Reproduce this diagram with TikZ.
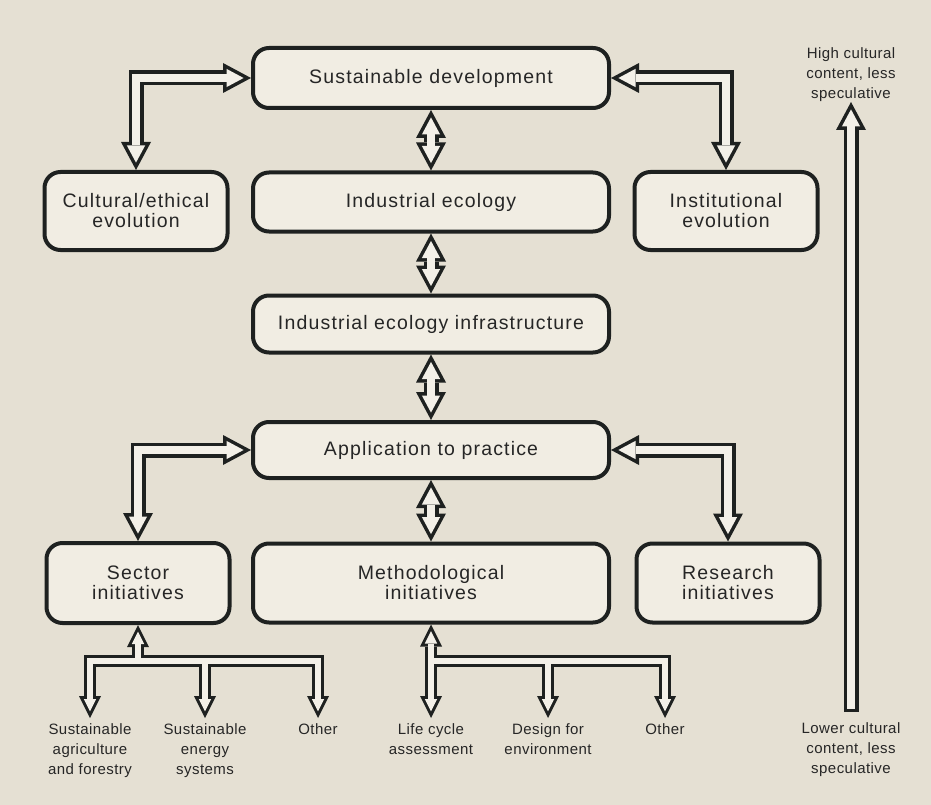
\documentclass[tikz,border=0pt]{standalone}
\usepackage{fontspec}
\setmainfont{Liberation Sans}
\newfontfamily\boxfont[LetterSpace=6]{Liberation Sans}
\newfontfamily\lblfont[LetterSpace=3]{Liberation Sans}
\usetikzlibrary{arrows.meta}
\definecolor{bgpaper}{HTML}{E5E0D3}
\definecolor{boxfill}{HTML}{F1EDE3}
\definecolor{arrowfill}{HTML}{F3F0E8}
\definecolor{inkcol}{HTML}{1E2120}
\definecolor{printcol}{HTML}{262626}

\begin{document}
\begin{tikzpicture}[x=1pt, y=-1pt,
  box/.style={draw=inkcol, line width=4pt, fill=boxfill, rounded corners=16pt, align=center, text=printcol, font=\boxfont\fontsize{19.5}{20}\selectfont, inner sep=0pt},
  wide/.style={box, minimum width=356pt},
  side/.style={box, minimum width=183pt, minimum height=78pt},
  lbl/.style={align=center, text=printcol, font=\lblfont\fontsize{15}{20}\selectfont, inner sep=0pt},
  ink big/.style={draw=inkcol, line width=15pt, >={Triangle[length=28pt, width=30pt, line width=0pt]}},
  paper big/.style={draw=arrowfill, line width=8pt, >={Triangle[length=17.1pt, width=18.3pt, sep=7.4pt, line width=0pt]}},
  ink small/.style={draw=inkcol, line width=12pt, >={Triangle[length=22pt, width=22pt, line width=0pt]}},
  paper small/.style={draw=arrowfill, line width=6pt, >={Triangle[length=12.3pt, width=12.3pt, sep=6.7pt, line width=0pt]}},
  ink cap/.style={},
  paper cap/.style={shorten <=3.5pt}]
\fill[bgpaper] (0,0) rectangle (931,805);
\useasboundingbox (0,0) rectangle (931,805);

\node[wide, minimum height=60pt] (sd) at (431,78) {Sustainable development};
\node[wide, minimum height=59pt] (indeco) at (431,202) {Industrial ecology};
\node[wide, minimum height=57pt] (infra) at (431,324) {Industrial ecology infrastructure};
\node[wide, minimum height=56pt] (practice) at (431,450) {Application to practice};
\node[wide, minimum height=79pt] (method) at (431,583) {Methodological\\initiatives};
\node[side] (cultural) at (136,211) {Cultural/ethical\\evolution};
\node[side] (institutional) at (726,211) {Institutional\\evolution};
\node[side, minimum height=80pt] (sector) at (138,583) {Sector\\initiatives};
\node[side, minimum height=79pt] (research) at (728,583) {Research\\initiatives};

\node[lbl, anchor=north, outer ysep=6pt] (agri) at (90,718) {Sustainable\\agriculture\\and forestry};
\node[lbl, anchor=north, outer ysep=6pt] (energy) at (205,718) {Sustainable\\energy\\systems};
\node[lbl, anchor=north, outer ysep=6pt] (othersec) at (318,718) {Other};
\node[lbl, anchor=north, outer ysep=6pt] (lca) at (431,718) {Life cycle\\assessment};
\node[lbl, anchor=north, outer ysep=6pt] (dfe) at (548,718) {Design for\\environment};
\node[lbl, anchor=north, outer ysep=6pt] (othermeth) at (665,718) {Other};
\node[lbl, anchor=south] (high) at (851,102) {High cultural\\content, less\\speculative};
\node[lbl, anchor=north, outer ysep=11pt] (low) at (851,712) {Lower cultural\\content, less\\speculative};

\coordinate (sbar) at (138,661);
\coordinate (mbar) at (431,661);

\foreach \pass in {ink,paper}{
  \draw[\pass\space big, <->] (sd) -- (indeco);
  \draw[\pass\space big, <->] (indeco) -- (infra);
  \draw[\pass\space big, <->] (infra) -- (practice);
  \draw[\pass\space big, <->] (practice) -- (method);
  \draw[\pass\space big, <->] (cultural) |- (sd);
  \draw[\pass\space big, <->] (institutional) |- (sd);
  \draw[\pass\space big, <->] (sector) |- (practice);
  \draw[\pass\space big, <->] (research) |- (practice);
  \draw[\pass\space big, ->, \pass\space cap] (low) -- (high);
  \draw[\pass\space small, ->] (sbar) -- (sector);
  \draw[\pass\space small, ->] (sbar) -| (agri);
  \draw[\pass\space small, ->] (sbar) -| (energy);
  \draw[\pass\space small, ->] (sbar) -| (othersec);
  \draw[\pass\space small, <->] (method) -- (lca);
  \draw[\pass\space small, ->] (mbar) -| (dfe);
  \draw[\pass\space small, ->] (mbar) -| (othermeth);
}
\end{tikzpicture}
\end{document}
